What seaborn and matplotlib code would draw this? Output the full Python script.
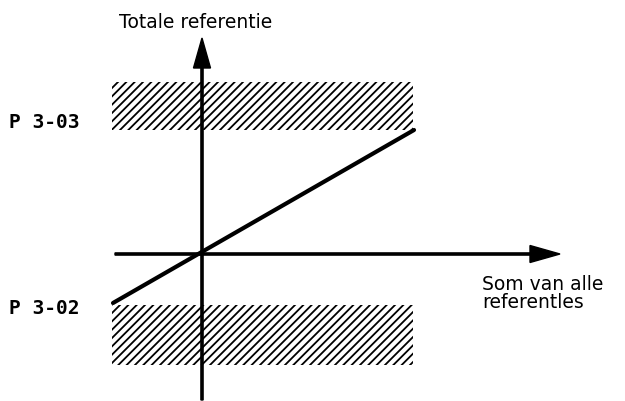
import numpy as np
import pandas as pd
import seaborn as sns
import matplotlib.pyplot as plt

# diagram units, origin where the two axes cross
line_x = [-89, 212]
line_y = [-49, 124]
band_x = [-90, 211]
band_upper = [124, 172]
band_lower = [-111, -51]
level_labels = ["P 3-03", "P 3-02"]
level_y = [131, -54]
y_title = "Totale referentie"
x_title = "Som van alle\nreferentles"

sns.set_style("white")
plt.rcParams['font.family'] = ['DejaVu Sans']
plt.rcParams['hatch.linewidth'] = 1.3
plt.rcParams['text.color'] = 'black'

fig = plt.figure(figsize=(6.25, 4.01), dpi=100)
ax = fig.add_axes([0, 0, 1, 1])

# hatched bands
for lo, hi in [band_upper, band_lower]:
    ax.fill_between(band_x, lo, hi, facecolor="white", edgecolor="black",
                    hatch="////", linewidth=0)

# axes with arrows
ax.arrow(0, -146, 0, 362, width=2.2, head_width=17, head_length=30,
         length_includes_head=True, color="black", zorder=3)
ax.arrow(-87, 0, 445, 0, width=2.2, head_width=17, head_length=30,
         length_includes_head=True, color="black", zorder=3)

df = pd.DataFrame({"x": line_x, "y": line_y})
sns.lineplot(data=df, x="x", y="y", ax=ax, color="black", linewidth=3, zorder=4)
ax.set_xlim(-202, 423)
ax.set_ylim(-147, 254)
ax.axis("off")

for lab, yy in zip(level_labels, level_y):
    ax.text(-193, yy, lab, fontsize=14, fontweight="bold", va="center", ha="left",
            family="DejaVu Sans Mono", color="black")

ax.text(-6, 232, y_title, fontsize=13.5, ha="center", va="center", color="black")
ax.text(280, -21, x_title, fontsize=13.5, ha="left", va="top", linespacing=0.95,
        color="black")

fig.savefig("out.png", dpi=100)
